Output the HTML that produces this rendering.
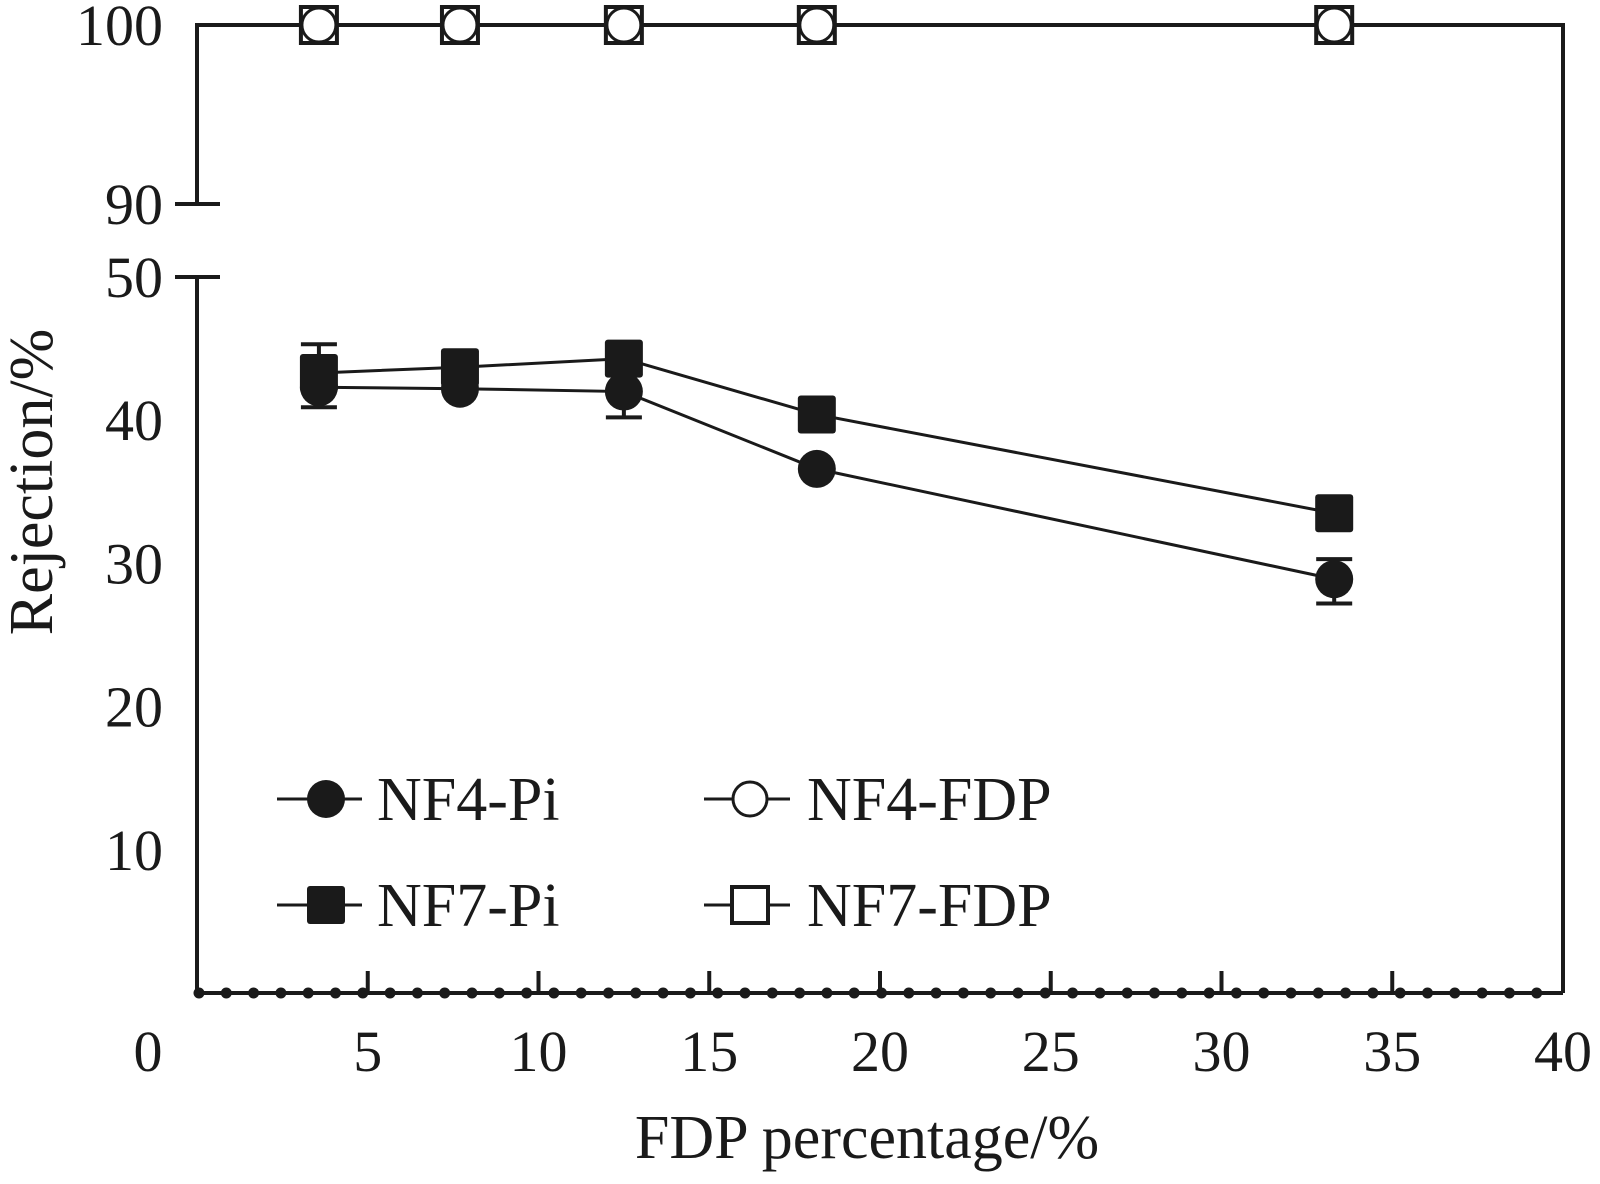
<!DOCTYPE html>
<html><head><meta charset="utf-8"><style>
body{margin:0;background:#fff}
svg text{font-family:"Liberation Serif",serif;fill:#1a1a1a}
</style></head><body>
<svg id="chart" width="1600" height="1179" xmlns="http://www.w3.org/2000/svg">
<g id="axes" stroke="#1a1a1a" stroke-width="4" fill="none"></g>
<g id="marks"></g>
<g id="labels" font-size="58"></g>
</svg>
<script>
const xTicks=[0,5,10,15,20,25,30,35,40];
const yTicksLow=[10,20,30,40,50];
const yTicksHigh=[90,100];
const xVals=[3.57,7.7,12.5,18.15,33.3];
const nf4Pi=[42.3,42.2,42.0,36.6,28.9];
const nf7Pi=[43.3,43.7,44.3,40.4,33.5];
const nf4Fdp=[100,100,100,100,100];
const nf7Fdp=[100,100,100,100,100];
const nf4PiErrLow=[40.9,null,40.2,null,27.2];
const nf4PiErrHigh=[null,null,null,null,30.3];
const nf7PiErrHigh=[45.3,null,null,null,null];

const NS='http://www.w3.org/2000/svg';
const X0=197,X1=1563,YB=993,YT=25;
const xs=v=>X0+(v/40)*(X1-X0);
const ys=v=>v>=90?204-(v-90)*(204-YT)/10:YB-v*(YB-277)/50;
function mk(t,a,p){const e=document.createElementNS(NS,t);for(const k in a)e.setAttribute(k,a[k]);p.appendChild(e);return e;}
const axes=document.getElementById('axes'),marks=document.getElementById('marks'),labels=document.getElementById('labels');

let e=mk('path',{d:`M${X0},204 L${X0},${YT} L${X1},${YT} L${X1},${YB}`},axes);


e=mk('path',{d:`M${X0},277 L${X0},${YB} L${X1},${YB}`},axes);


[90,50].forEach(v=>{const t=mk('line',{x1:175,x2:220,y1:ys(v),y2:ys(v)},axes);

});
xTicks.slice(1,-1).forEach(v=>{const t=mk('line',{x1:xs(v),x2:xs(v),y1:YB,y2:YB-22},axes);

});
for(let i=0;i<50;i++){const d=mk('circle',{cx:199+i*27.3,cy:YB,r:5.5,fill:'#1a1a1a',stroke:'none'},axes);

}

xTicks.forEach(v=>{const t=mk('text',{x:v===0?148:xs(v),y:1071,'text-anchor':'middle'},labels);t.textContent=v;

});
yTicksLow.concat(yTicksHigh).forEach(v=>{const t=mk('text',{x:163,y:ys(v)+20,'text-anchor':'end'},labels);t.textContent=v;

});
let t=mk('text',{x:867,y:1158,'text-anchor':'middle','font-size':62},labels);t.textContent='FDP percentage/%';


t=mk('text',{x:0,y:0,'text-anchor':'middle','font-size':62,transform:'translate(52,482) rotate(-90)'},labels);t.textContent='Rejection/%';



function marker(type,cx,cy,name){
  let m;
  if(type==='fc') m=mk('circle',{cx,cy,r:19,fill:'#1a1a1a'},marks);
  if(type==='fs') m=mk('rect',{x:cx-19,y:cy-19,width:38,height:38,rx:3,fill:'#1a1a1a'},marks);
  if(type==='oc') m=mk('circle',{cx,cy,r:17,fill:'#fff',stroke:'#1a1a1a','stroke-width':3},marks);
  if(type==='os') m=mk('rect',{x:cx-18,y:cy-18,width:36,height:36,fill:'#fff',stroke:'#1a1a1a','stroke-width':4},marks);
  
  
}
function series(vals,type,name){
  const l=mk('polyline',{points:vals.map((v,i)=>xs(xVals[i])+','+ys(v)).join(' '),fill:'none',stroke:'#1a1a1a','stroke-width':3},marks);
  
  
}
function errs(arr,name){
  arr.forEach((v,i)=>{if(v==null)return;const x=xs(xVals[i]);
    const p=mk('path',{d:`M${x},${ys(v)} L${x},${ys(nf4Pi[i])} M${x-18},${ys(v)} L${x+18},${ys(v)}`,stroke:'#1a1a1a','stroke-width':4,fill:'none'},marks);
    
    });
}
series(nf4Fdp,'os','nf7-fdp');
errs(nf4PiErrLow,'nf4-pi-error-bar');
errs(nf4PiErrHigh,'nf4-pi-error-bar');
nf7PiErrHigh.forEach((v,i)=>{if(v==null)return;const x=xs(xVals[i]);
  const p=mk('path',{d:`M${x},${ys(v)} L${x},${ys(nf7Pi[i])} M${x-18},${ys(v)} L${x+18},${ys(v)}`,stroke:'#1a1a1a','stroke-width':4,fill:'none'},marks);
  
  });
series(nf4Pi,'fc','nf4-pi');
series(nf7Pi,'fs','nf7-pi');
nf4Pi.forEach((v,i)=>marker('fc',xs(xVals[i]),ys(v),'nf4-pi-point'));
nf7Pi.forEach((v,i)=>marker('fs',xs(xVals[i]),ys(v),'nf7-pi-point'));
nf7Fdp.forEach((v,i)=>marker('os',xs(xVals[i]),ys(v),'nf7-fdp-point'));
nf4Fdp.forEach((v,i)=>marker('oc',xs(xVals[i]),ys(v),'nf4-fdp-point'));

const legend=[['fc','NF4-Pi',277,362,326,377,799],['oc','NF4-FDP',704,790,750,807,799],['fs','NF7-Pi',277,362,326,377,905],['os','NF7-FDP',704,790,750,807,905]];
legend.forEach(L=>{
  const g=mk('g',{},marks);
  
  
  mk('line',{x1:L[2],x2:L[3],y1:L[6],y2:L[6],stroke:'#1a1a1a','stroke-width':3},g);
  marker(L[0],L[4],L[6],'legend-marker');
  const tx=mk('text',{x:L[5],y:L[6]+21,'font-size':62},labels);tx.textContent=L[1];
  
  
});
</script>
</body></html>
